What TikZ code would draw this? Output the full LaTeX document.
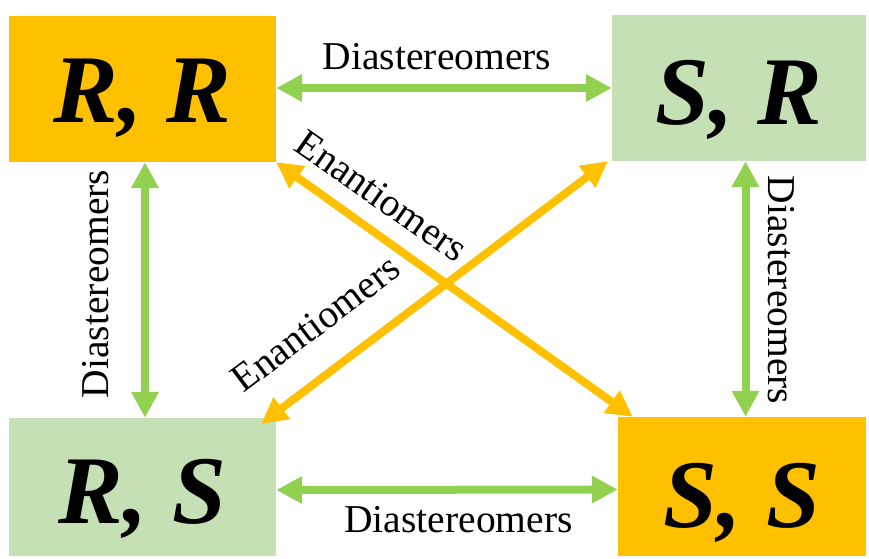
\documentclass[tikz,border=0pt]{standalone}
\usepackage{fontspec}
\setmainfont{Liberation Serif}
\newfontfamily\stereofont{Liberation Serif Bold Italic}
\usetikzlibrary{arrows.meta}
\definecolor{boxorange}{HTML}{FFC000}
\definecolor{boxgreen}{HTML}{C5E0B4}
\definecolor{arrowgreen}{HTML}{92D050}

\begin{document}
\begin{tikzpicture}[x=1pt,y=-1pt,
  isomer/.style={inner sep=0pt, text depth=0pt,
    font=\stereofont\fontsize{97}{97}\selectfont},
  pair/.style={line width=8pt,
    {Triangle[length=26pt,width=26pt]}-{Triangle[length=26pt,width=26pt]}},
  dia/.style={pair, draw=arrowgreen},
  ena/.style={pair, draw=boxorange},
  lbl/.style={inner sep=0pt, anchor=base, font=\fontsize{39.5}{40}\selectfont}]
\useasboundingbox (0,0) rectangle (869,558);

% the four stereoisomers
\node[isomer, fill=boxorange, minimum width=267pt, minimum height=146pt,
      text height=66pt] (rr) at (142.5,89) {R, R};
\node[isomer, fill=boxgreen, minimum width=254pt, minimum height=146pt,
      text height=72pt] (sr) at (739,88) {S, R};
\node[isomer, fill=boxgreen, minimum width=267pt, minimum height=138pt,
      text height=72pt] (rs) at (142.5,487) {R, S};
\node[isomer, fill=boxorange, minimum width=248pt, minimum height=139pt,
      text height=81pt] (ss) at (742,486.5) {S, S};

% diastereomer relations
\draw[dia] (rr.east |- sr.west) -- (sr.west);
\draw[dia] ([yshift=-3pt]rs.east) -- ([yshift=-3pt]ss.west);
\draw[dia] ([xshift=2.5pt]rr.south) -- ([xshift=2.5pt]rs.north);
\draw[dia] ([xshift=6.5pt]sr.south) -- ([xshift=3.5pt]ss.north);

% enantiomer relations
\draw[ena] (rr.south east) -- ([xshift=15pt]ss.north west);
\draw[ena] ([xshift=-4pt]sr.south west) -- ([xshift=-15pt,yshift=-6pt]rs.north east);

% labels
\node[lbl] (dtop) at (437,69) {Diastereomers};
\node[lbl] (dbot) at (458.5,532.7) {Diastereomers};
\node[lbl, rotate=90] (dleft) at (108,284) {Diastereomers};
\node[lbl, rotate=-90] (dright) at (768,290) {Diastereomers};
\node[lbl, rotate=-35] (eup) at (374,206.5) {Enantiomers};
\node[lbl, rotate=37] (elow) at (323.5,333.5) {Enantiomers};
\end{tikzpicture}
\end{document}
